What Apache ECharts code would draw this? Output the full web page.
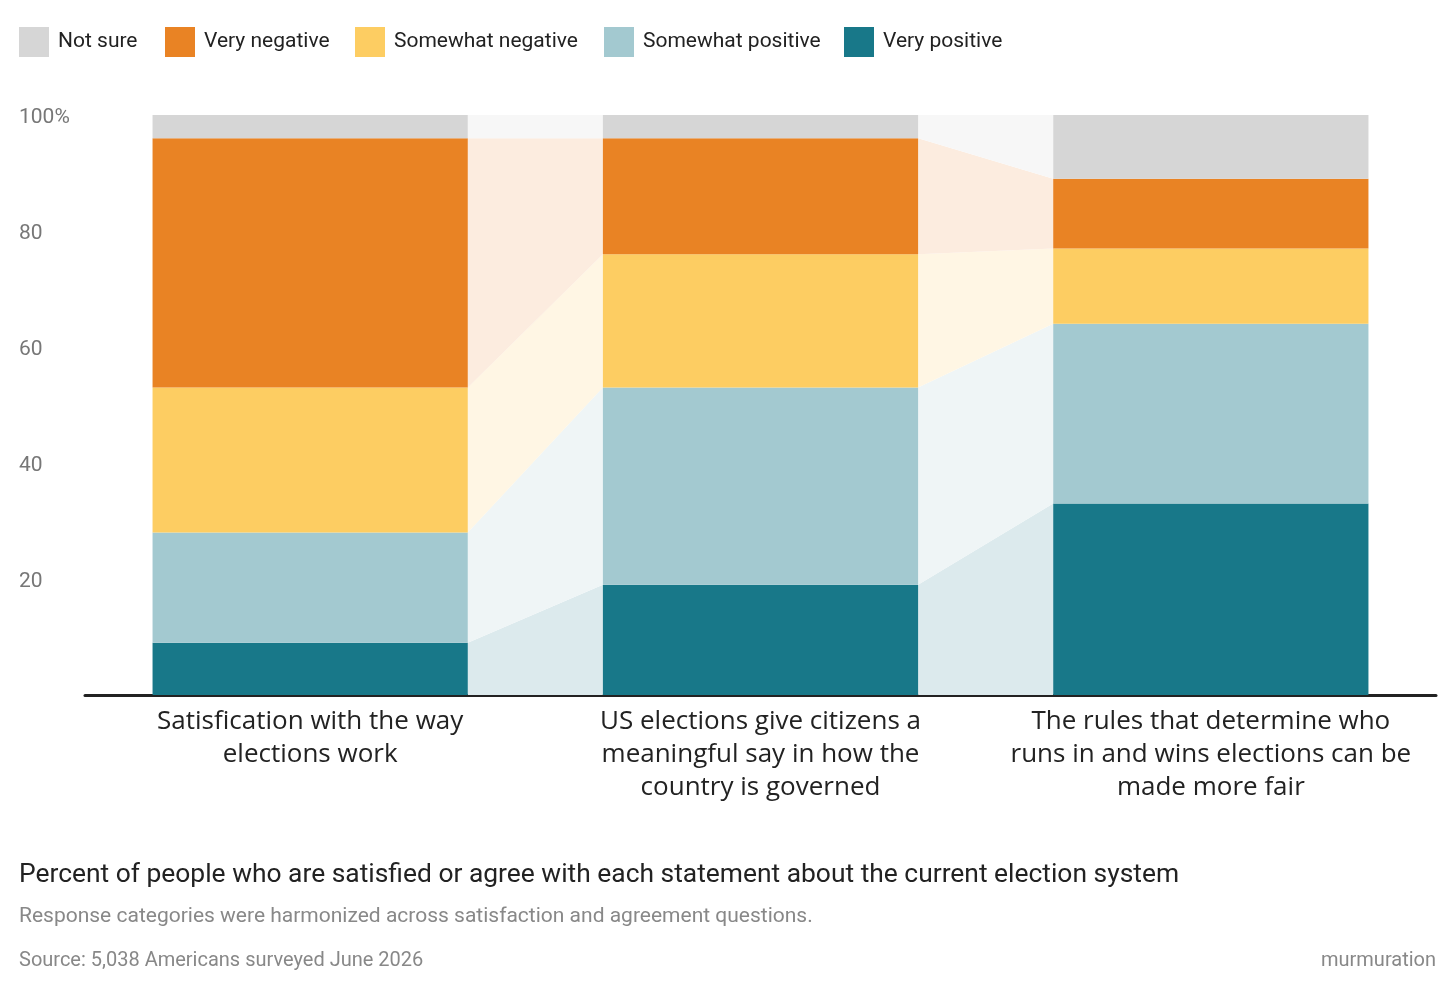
<!DOCTYPE html>
<html>
<head>
<meta charset="utf-8">
<title>Election system chart</title>
<script src="https://cdn.jsdelivr.net/npm/echarts@6/dist/echarts.min.js"></script>
<style>
  html, body { margin: 0; padding: 0; background: #fff; }
  #main { width: 1456px; height: 996px; }
</style>
</head>
<body>
<div id="main"></div>
<script>
// DATA ---------------------------------------------------------------
var categories = [
    'Satisfication with the way\nelections work',
    'US elections give citizens a\nmeaningful say in how the\ncountry is governed',
    'The rules that determine who\nruns in and wins elections can be\nmade more fair'
];
// stacked from bottom to top
var veryPositive     = [9, 19, 33];
var somewhatPositive = [19, 34, 31];
var somewhatNegative = [25, 23, 13];
var veryNegative     = [43, 20, 12];
var notSure          = [4, 4, 11];
var yTicks = [0, 20, 40, 60, 80, 100];

var seriesNames  = ['Very positive', 'Somewhat positive', 'Somewhat negative', 'Very negative', 'Not sure'];
var seriesValues = [veryPositive, somewhatPositive, somewhatNegative, veryNegative, notSure];
var colors     = ['#187889', '#a3c9d0', '#fdcd62', '#e98324', '#d6d6d6'];
var bandColors = ['#dceaed', '#eff5f6', '#fff6e4', '#fcecdf', '#f7f7f7'];

var narrow = "'Roboto', sans-serif";
var plain  = "'Open Sans', 'Noto Sans', sans-serif";

// cumulative bottoms / tops of each segment per category
var bottoms = [], tops = [];
seriesValues.forEach(function (vals, s) {
    bottoms.push([]); tops.push([]);
    vals.forEach(function (v, i) {
        var b = s === 0 ? 0 : tops[s - 1][i];
        bottoms[s].push(b);
        tops[s].push(b + v);
    });
});

// band items: [category index, segment index]
var bandData = [];
for (var i = 0; i < categories.length - 1; i++) {
    for (var s = 0; s < seriesNames.length; s++) bandData.push([i, s]);
}

var chart = echarts.init(document.getElementById('main'));

var series = [{
    name: 'bands',
    type: 'custom',
    z: 1,
    silent: true,
    clip: false,
    data: bandData,
    renderItem: function (params, api) {
        var i = api.value(0), s = api.value(1);
        var half = api.size([1, 0])[0] * 0.35;
        var a0 = api.coord([i, bottoms[s][i]]), a1 = api.coord([i, tops[s][i]]);
        var b0 = api.coord([i + 1, bottoms[s][i + 1]]), b1 = api.coord([i + 1, tops[s][i + 1]]);
        return {
            type: 'polygon',
            shape: { points: [
                [a0[0] + half, a0[1]], [a1[0] + half, a1[1]],
                [b1[0] - half, b1[1]], [b0[0] - half, b0[1]]
            ] },
            style: { fill: bandColors[s], stroke: null }
        };
    }
}];

seriesNames.forEach(function (name, s) {
    series.push({
        name: name,
        type: 'bar',
        stack: 'all',
        z: 2,
        barWidth: '70%',
        itemStyle: { color: colors[s] },
        data: seriesValues[s]
    });
});

// one legend per item so positions match
var legendOrder = ['Not sure', 'Very negative', 'Somewhat negative', 'Somewhat positive', 'Very positive'];
var legendLeft  = [14, 160, 350, 599, 839];
var legends = legendOrder.map(function (name, k) {
    return {
        left: legendLeft[k], top: 22,
        data: [name],
        icon: 'rect', itemWidth: 30, itemHeight: 30, itemGap: 10,
        selectedMode: false,
        textStyle: { fontFamily: narrow, fontSize: 21, color: '#222', padding: [0, 0, 0, 4] }
    };
});

var option = {
    animation: false,
    backgroundColor: '#fff',
    color: colors,
    legend: legends,
    title: [
        { text: 'Percent of people who are satisfied or agree with each statement about the current election system',
          left: 14, top: 857, textStyle: { fontFamily: narrow, fontSize: 26.4, fontWeight: 'normal', color: '#222' } },
        { text: 'Response categories were harmonized across satisfaction and agreement questions.',
          left: 14, top: 901, textStyle: { fontFamily: narrow, fontSize: 21, fontWeight: 'normal', color: '#888' } },
        { text: 'Source: 5,038 Americans surveyed June 2026',
          left: 14, top: 946, textStyle: { fontFamily: narrow, fontSize: 20, fontWeight: 'normal', color: '#888' } },
        { text: 'murmuration',
          right: 15, top: 946, textStyle: { fontFamily: narrow, fontSize: 20, fontWeight: 'normal', color: '#888' } }
    ],
    grid: { left: 85, right: 20, top: 115, bottom: 301, containLabel: false },
    xAxis: {
        type: 'category',
        data: categories,
        axisTick: { show: false },
        axisLine: { lineStyle: { color: '#222', width: 3 } },
        axisLabel: {
            interval: 0, margin: 10,
            fontFamily: plain, fontSize: 26, lineHeight: 33, color: '#222'
        }
    },
    yAxis: {
        type: 'value',
        min: yTicks[0], max: yTicks[yTicks.length - 1], interval: 20,
        splitLine: { show: false },
        axisLine: { show: false },
        axisTick: { show: false },
        axisLabel: {
            align: 'left', margin: 66,
            formatter: function (v) { return v === 0 ? '' : '{t|' + (v === 100 ? '100%' : String(v)) + '}'; },
            rich: {
                t: { fontFamily: narrow, fontSize: 21, color: '#777', padding: [6, 0, 0, 0] }
            }
        }
    },
    series: series
};

chart.setOption(option);
</script>
</body>
</html>
